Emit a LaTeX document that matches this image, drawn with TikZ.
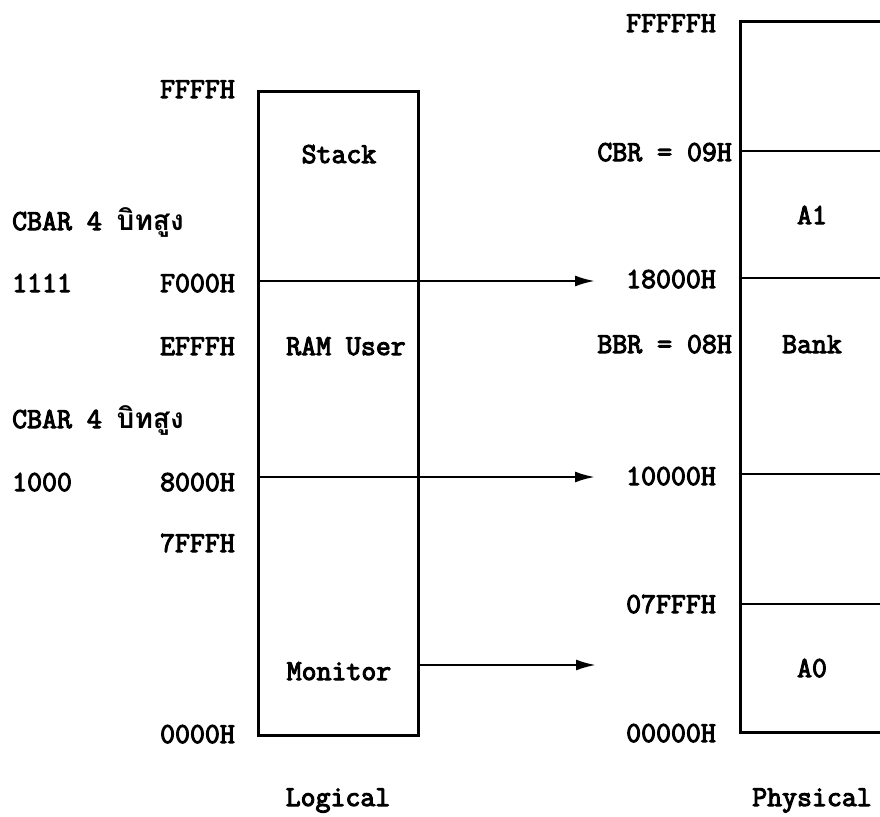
\documentclass[tikz,border=0pt]{standalone}
\usepackage{fontspec}
\newfontfamily\lmbold{Latin Modern Mono}[FakeBold=3.6]
\newfontfamily\thaifont[Script=Thai]{Loma}
\usetikzlibrary{arrows.meta}
\begin{document}
\begin{tikzpicture}[x=1pt,y=-1pt,
  lbl/.style={inner sep=0pt,font=\fontsize{29}{34}\lmbold},
  memline/.style={line width=2.6pt},
  boxline/.style={line width=3pt},
  arr/.style={line width=2.4pt,-{Latex[length=20pt,width=11pt]}}]
\path[use as bounding box] (0,0) rectangle (880,816);
\clip (0,0) rectangle (880,816);
% logical box
\node[boxline,draw,minimum width=160pt,minimum height=644pt,inner sep=0pt] (logical) at (338,413) {};
\coordinate (lf) at (338,281);
\coordinate (l8) at (338,477);
\draw[memline] (logical.west |- lf) -- (logical.east |- lf);
\draw[memline] (logical.west |- l8) -- (logical.east |- l8);
% physical box (extends beyond right edge)
\node[boxline,draw,minimum width=260pt,minimum height=710pt,inner sep=0pt] (physical) at (870,377) {};
\coordinate (pc) at (870,151);
\coordinate (p18) at (870,278);
\coordinate (p10) at (870,474);
\coordinate (p07) at (870,604);
\draw[memline] (physical.west |- pc) -- (physical.east |- pc);
\draw[memline] (physical.west |- p18) -- (physical.east |- p18);
\draw[memline] (physical.west |- p10) -- (physical.east |- p10);
\draw[memline] (physical.west |- p07) -- (physical.east |- p07);
% arrows
\coordinate (t1) at (595,281);
\coordinate (t2) at (595,477);
\coordinate (t3) at (596,665);
\draw[arr] (logical.east |- t1) -- (t1);
\draw[arr] (logical.east |- t2) -- (t2);
\draw[arr] (logical.east |- t3) -- (t3);
% left labels
\node[lbl,anchor=base east] (ffff) at (235,98) {FFFFH};
\node[lbl,anchor=base] (stack) at (339,163) {Stack};
\node[lbl,anchor=base west] (cbar1) at (12,230) {CBAR 4 {\fontsize{28}{30}\thaifont\bfseries บิทสูง}};
\node[lbl,anchor=base west] (b1111) at (12,292) {1111};
\node[lbl,anchor=base east] (f000) at (235,292) {F000H};
\node[lbl,anchor=base east] (efff) at (235,355) {EFFFH};
\node[lbl,anchor=base] (ram) at (346,355) {RAM User};
\node[lbl,anchor=base west] (cbar2) at (12,428) {CBAR 4 {\fontsize{28}{30}\thaifont\bfseries บิทสูง}};
\node[lbl,anchor=base west] (b1000) at (12,491) {1000};
\node[lbl,anchor=base east] (h8000) at (235,491) {8000H};
\node[lbl,anchor=base east] (h7fff) at (235,552) {7FFFH};
\node[lbl,anchor=base] (monitor) at (339,680) {Monitor};
\node[lbl,anchor=base east] (h0000) at (235,743) {0000H};
\node[lbl,anchor=base] (logtxt) at (338,806) {Logical};
% right labels
\node[lbl,anchor=base east] (fffff) at (716,32) {FFFFFH};
\node[lbl,anchor=base east] (cbr) at (732,161) {CBR = 09H};
\node[lbl,anchor=base] (a1) at (812,224) {A1};
\node[lbl,anchor=base east] (h18000) at (716,288) {18000H};
\node[lbl,anchor=base east] (bbr) at (732,353) {BBR = 08H};
\node[lbl,anchor=base] (bank) at (812,353) {Bank};
\node[lbl,anchor=base east] (h10000) at (716,485) {10000H};
\node[lbl,anchor=base east] (h07fff) at (716,613) {07FFFH};
\node[lbl,anchor=base] (a0) at (812,677) {A0};
\node[lbl,anchor=base east] (h00000) at (716,742) {00000H};
\node[lbl,anchor=base] (phystxt) at (812,806) {Physical};
\end{tikzpicture}
\end{document}
